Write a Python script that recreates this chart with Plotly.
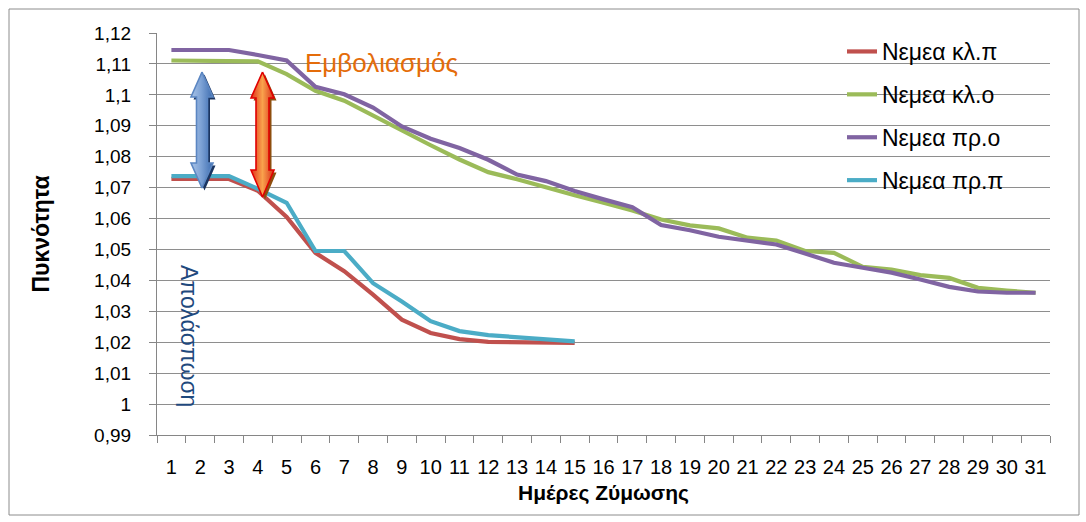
import plotly.graph_objects as go

# ---------------- data ----------------
days = list(range(1, 32))
day_labels = [str(d) for d in days]

kl_p = [1.0728, 1.0728, 1.0728, 1.0690, 1.0605, 1.0489, 1.0430, 1.0354, 1.0273,
        1.0230, 1.0210, 1.0201, 1.0199, 1.0198, 1.0198]
kl_o = [1.1111, 1.1111, 1.1111, 1.1108, 1.1067, 1.1013, 1.0981, 1.0932, 1.0883,
        1.0837, 1.0791, 1.0750, 1.0727, 1.0700, 1.0675, 1.0651, 1.0626, 1.0597,
        1.0578, 1.0568, 1.0538, 1.0529, 1.0495, 1.0489, 1.0444, 1.0435, 1.0417,
        1.0408, 1.0376, 1.0367, 1.0360]
pr_o = [1.1145, 1.1145, 1.1145, 1.1129, 1.1111, 1.1026, 1.1002, 1.0959, 1.0898,
        1.0858, 1.0828, 1.0790, 1.0742, 1.0721, 1.0689, 1.0662, 1.0637, 1.0579,
        1.0562, 1.0541, 1.0527, 1.0516, 1.0487, 1.0457, 1.0441, 1.0425, 1.0403,
        1.0379, 1.0364, 1.0360, 1.0360]
pr_p = [1.0737, 1.0737, 1.0737, 1.0696, 1.0651, 1.0495, 1.0495, 1.0391, 1.0332,
        1.0268, 1.0236, 1.0223, 1.0216, 1.0207, 1.0203]

series_names = ["Νεμεα κλ.π", "Νεμεα κλ.ο", "Νεμεα πρ.ο", "Νεμεα πρ.π"]
series_values = [kl_p, kl_o, pr_o, pr_p]
series_colors = ["#C0504D", "#9BBB59", "#8064A2", "#4BACC6"]

y_ticks = [0.99, 1.00, 1.01, 1.02, 1.03, 1.04, 1.05, 1.06, 1.07, 1.08, 1.09, 1.10, 1.11, 1.12]
y_ticktext = ["0,99", "1", "1,01", "1,02", "1,03", "1,04", "1,05", "1,06", "1,07",
              "1,08", "1,09", "1,1", "1,11", "1,12"]

FONT = "Liberation Sans"
W, H = 1086, 522
L, R, T, B = 157, 36, 33, 87          # plot area 157..1050 x 33..435
PX0, PX1, PY0, PY1 = L, W - R, T, H - B

fig = go.Figure()

for name, vals, col in zip(series_names, series_values, series_colors):
    fig.add_trace(go.Scatter(
        x=day_labels[:len(vals)], y=vals, name=name, mode="lines",
        line=dict(color=col, width=4.2), legendgroup=name,
    ))


# ---------------- decorative double arrows (pixel overlay axes) ----------------
def double_arrow(cx, top, bottom, head_half, shaft_half, head_top, head_bot):
    xs = [cx, cx + head_half, cx + shaft_half, cx + shaft_half, cx + head_half, cx,
          cx - head_half, cx - shaft_half, cx - shaft_half, cx - head_half, cx]
    ys = [top, top + head_top, top + head_top, bottom - head_bot, bottom - head_bot, bottom,
          bottom - head_bot, bottom - head_bot, top + head_top, top + head_top, top]
    return xs, ys


arrows = [
    dict(geom=(202, 72, 188, 11, 5.5, 25, 25), shadow="#1B3561", line="#5B86C2",
         scale=[[0, "#A9C3E6"], [0.45, "#7EA3D6"], [1, "#3E6DB0"]]),
    dict(geom=(262.5, 72, 197, 11.5, 6.5, 26, 27), shadow="#8E4E0E", line="#E00000",
         scale=[[0, "#E0301A"], [0.5, "#F9A24C"], [1, "#D8301A"]]),
]
for a in arrows:
    xs, ys = double_arrow(*a["geom"])
    fig.add_trace(go.Scatter(
        x=[v + 2.5 for v in xs], y=[v + 2.5 for v in ys], xaxis="x2", yaxis="y2",
        mode="lines", fill="toself", fillcolor=a["shadow"], line=dict(width=0, color=a["shadow"]),
        showlegend=False, hoverinfo="skip"))
    fig.add_trace(go.Scatter(
        x=xs, y=ys, xaxis="x2", yaxis="y2", mode="lines", fill="toself",
        fillgradient=dict(type="horizontal", colorscale=a["scale"]),
        line=dict(width=1.6, color=a["line"]), showlegend=False, hoverinfo="skip"))


def px(x):
    return (x - PX0) / (PX1 - PX0)


def py(y):
    return (PY1 - y) / (PY1 - PY0)


fig.add_annotation(text="Εμβολιασμός", x=px(381.5), y=py(63), xref="paper", yref="paper",
                   xanchor="center", yanchor="middle",
                   showarrow=False, font=dict(family=FONT, size=26, color="#E46C0A"))
fig.add_annotation(text="Απολάσπωση", x=px(189), y=py(336), xref="paper", yref="paper",
                   xanchor="center", yanchor="middle",
                   showarrow=False, textangle=90,
                   font=dict(family=FONT, size=23, color="#1F497D"))

# outer chart border
fig.add_shape(type="rect", xref="paper", yref="paper",
              x0=px(9), x1=px(1079), y0=py(515), y1=py(9),
              line=dict(color="#8C8C8C", width=1), fillcolor="rgba(0,0,0,0)", layer="below")

fig.update_layout(
    width=W, height=H,
    margin=dict(l=L, r=R, t=T, b=B),
    paper_bgcolor="white", plot_bgcolor="white",
    font=dict(family=FONT, size=19, color="#000000"),
    showlegend=True,
    legend=dict(x=px(842), y=py(30), xanchor="left", yanchor="top",
                bgcolor="rgba(0,0,0,0)", borderwidth=0,
                font=dict(family=FONT, size=23, color="#000000"),
                tracegroupgap=10, itemwidth=30),
    xaxis=dict(
        type="category", range=[-0.5, 30.5], tickson="boundaries", ticks="outside", ticklen=7,
        tickangle=0,
        tickcolor="#868686", tickwidth=1, showline=True, linecolor="#868686", linewidth=1.2,
        showgrid=False, zeroline=False, ticklabelstandoff=14,
        tickfont=dict(family=FONT, size=20),
        title=dict(text="<b>Ημέρες Ζύμωσης</b>", font=dict(family=FONT, size=21), standoff=8),
        fixedrange=True,
    ),
    yaxis=dict(
        range=[0.99, 1.12], tickmode="array", tickvals=y_ticks, ticktext=y_ticktext,
        ticks="outside", ticklen=7, tickcolor="#868686", showline=True,
        linecolor="#868686", linewidth=1.2, showgrid=True, gridcolor="#8E8E8E", gridwidth=1.4,
        zeroline=False, ticklabelstandoff=14, tickfont=dict(family=FONT, size=19),
        title=dict(text="<b>Πυκνότητα</b>", font=dict(family=FONT, size=23), standoff=38),
        fixedrange=True,
    ),
    xaxis2=dict(overlaying="x", range=[PX0, PX1], visible=False, fixedrange=True),
    yaxis2=dict(overlaying="y", range=[PY1, PY0], visible=False, fixedrange=True),
)

fig.write_html("out.html")
